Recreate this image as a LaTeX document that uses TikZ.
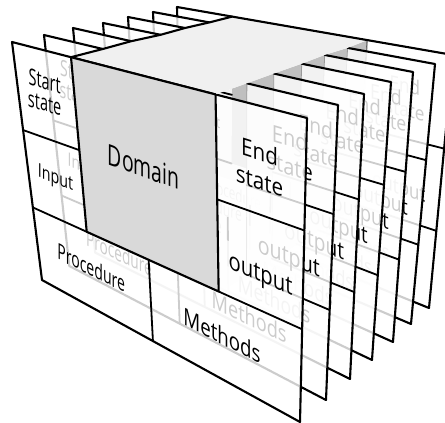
\documentclass[tikz,border=0pt]{standalone}
\usepackage{fontspec}
\setmainfont{Open Sans}
\usetikzlibrary{calc}
\tikzset{
  edge/.style={draw=black, line width=2.1pt, line join=round, line cap=round},
  divider/.style={draw=black, line width=1.8pt, line cap=round},
  sheetfill/.style={fill=white, fill opacity=0.8},
  holeedge/.style={draw=black!40, line width=0.8pt},
  lbl/.style={inner sep=0pt, align=center, text=black},
  frontface/.style={fill=black!15},
  topface/.style={fill=black!6},
  sideface/.style={fill=black!25},
}
% point of sheet #1 at local (u,v)=(#2,#3), named s#1-#4
\newcommand\bpt[4]{\coordinate (s#1-#4) at ($($(s#1-tl)!#2!(s#1-tr)$)!#3!($(s#1-bl)!#2!(s#1-br)$)$);}
\newcommand\defsheet[5]{%
  \coordinate (s#1-tl) at (#2); \coordinate (s#1-tr) at (#3);
  \coordinate (s#1-br) at (#4); \coordinate (s#1-bl) at (#5);
  \bpt{#1}{0.2}{0}{h1}\bpt{#1}{0.69}{0}{h2}\bpt{#1}{0.69}{0.695}{h3}\bpt{#1}{0.2}{0.695}{h4}%
  \bpt{#1}{0}{0.37}{l1}\bpt{#1}{0.2}{0.37}{l2}\bpt{#1}{0}{0.695}{l3}%
  \bpt{#1}{0.69}{0.37}{r1}\bpt{#1}{1}{0.37}{r2}\bpt{#1}{1}{0.695}{r3}%
  \bpt{#1}{0.43}{0.695}{m1}\bpt{#1}{0.43}{1}{m2}%
}
\newcommand\lab[8]{%
  \pgfmathsetmacro\slp{-(\tsl+#3*(\bsl-\tsl))}%
  \node[lbl, yslant=\slp, xscale=#8, scale=\scl, transform shape, font=\fontsize{#6}{#7}\selectfont] (s#1-#4)
    at ($($(s#1-tl)!#2!(s#1-tr)$)!#3!($(s#1-bl)!#2!(s#1-br)$)$) {#5};}
\newcommand\drawsheet[4]{%
  \def\tsl{#2}\def\bsl{#3}\def\scl{#4}%
  \fill[sheetfill] (s#1-tl) -- (s#1-h1) -- (s#1-h4) -- (s#1-h3) -- (s#1-h2) -- (s#1-tr) -- (s#1-br) -- (s#1-bl) -- cycle;
  \draw[holeedge] (s#1-h2) -- (s#1-h3);
  \draw[divider] (s#1-l1) -- (s#1-l2) (s#1-l3) -- (s#1-h4) (s#1-h3) -- (s#1-r3)
                 (s#1-r1) -- (s#1-r2) (s#1-m1) -- (s#1-m2);
  \draw[edge] (s#1-h2) -- (s#1-tr) -- (s#1-br) -- (s#1-bl) -- (s#1-tl) -- (s#1-h1);
  \lab{#1}{0.095}{0.175}{st}{Start\\state}{23}{22}{0.63}
  \lab{#1}{0.1}{0.53}{in}{Input}{19}{22}{0.75}
  \lab{#1}{0.205}{0.835}{pr}{Procedure}{22}{24}{0.64}
  \lab{#1}{0.7}{0.845}{me}{Methods}{24}{26}{0.78}
  \lab{#1}{0.84}{0.205}{en}{End\\state}{24}{29}{0.86}
  \lab{#1}{0.845}{0.58}{ou}{output}{25}{28}{0.81}
}
\begin{document}
\begin{tikzpicture}[x=1pt, y=-1pt]
\useasboundingbox (0,0) rectangle (445,423);
\clip (0,0) rectangle (445,423);
\defsheet{0}{12,42}{307,118}{300,422}{42,280}
\defsheet{1}{44,35}{338,105}{326,400}{69.3,266}
\defsheet{2}{73,28}{364,94}{350,379}{95.2,252.6}
\defsheet{3}{103,23}{391,82}{372,360}{119.7,240}
\defsheet{4}{128,17}{413,72}{393,342}{141.4,228.9}
\defsheet{5}{153,12}{435,64}{411,324}{162.1,218.2}
\defsheet{6}{177,7}{453,55}{429,308}{182,208}
% right face of the cube
\fill[sideface] (s0-h2) -- (s1-h2) -- (s2-h2) -- (s3-h2) -- (s4-h2) -- (s5-h2) -- (s6-h2)
  -- (s6-h3) -- (s5-h3) -- (s4-h3) -- (s3-h3) -- (s2-h3) -- (s1-h3) -- (s0-h3) -- cycle;
\draw[black, line width=1.2pt, line join=round] (s0-h3) -- (s1-h3) -- (s2-h3) -- (s3-h3) -- (s4-h3) -- (s5-h3) -- (s6-h3) -- (s6-h2);
% sheets, back to front
\drawsheet{6}{0.174}{0.405}{0.83}
\drawsheet{5}{0.184}{0.425}{0.86}
\drawsheet{4}{0.193}{0.45}{0.89}
\drawsheet{3}{0.205}{0.476}{0.915}
\drawsheet{2}{0.227}{0.496}{0.94}
\drawsheet{1}{0.238}{0.522}{0.97}
\drawsheet{0}{0.258}{0.55}{1}
% top face of the cube
\fill[topface] (s0-h1) -- (s0-h2) -- (s1-h2) -- (s2-h2) -- (s3-h2) -- (s4-h2) -- (s5-h2) -- (s6-h2)
  -- (s6-h1) -- (s5-h1) -- (s4-h1) -- (s3-h1) -- (s2-h1) -- (s1-h1) -- cycle;
\draw[edge] (s0-h2) -- (s0-h1) -- (s1-h1) -- (s2-h1) -- (s3-h1) -- (s4-h1) -- (s5-h1) -- (s6-h1) -- (s6-h2);
% front face of the cube
\filldraw[frontface, edge] (s0-h1) -- (s0-h2) -- (s0-h3) -- (s0-h4) -- cycle;
\node[lbl, yslant=-0.359, xscale=0.67, transform shape, font=\fontsize{29}{32}\selectfont] (dom)
  at ($($(s0-tl)!0.43!(s0-tr)$)!0.345!($(s0-bl)!0.43!(s0-br)$)$) {Domain};
\end{tikzpicture}
\end{document}
